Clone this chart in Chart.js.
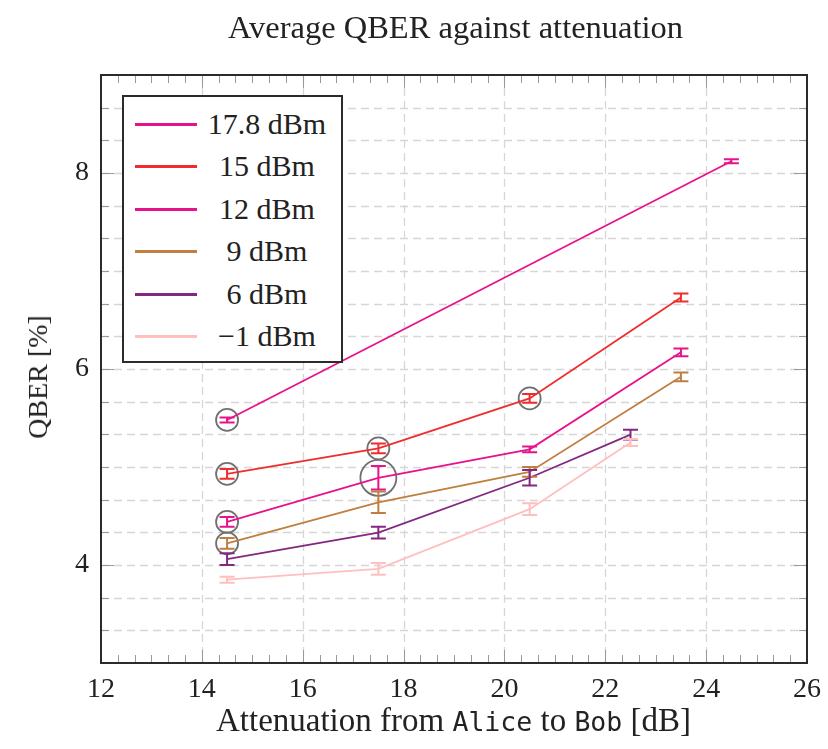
<!DOCTYPE html>
<html>
<head>
<meta charset="utf-8">
<script src="https://cdn.jsdelivr.net/npm/chart.js@4/dist/chart.umd.min.js"></script>
<style>
  body { margin: 0; background: #fff; }
  #wrap { position: relative; width: 828px; height: 749px; }
  #myChart { position: absolute; left: 0; top: 0; }
  .txt { position: absolute; font-family: "Liberation Serif", serif; color: #222; white-space: nowrap; }
  #title { left: 0; width: 911px; top: 9px; text-align: center; font-size: 32.5px; }
  #xTitle { left: 0; width: 907px; top: 702px; text-align: center; font-size: 33px; }
  #yTitle { left: 38px; top: 377px; font-size: 28px; transform: translate(-50%, -50%) rotate(-90deg); }
  .mono { font-family: "DejaVu Sans Mono", monospace; font-size: 26.5px; }
  #legend { position: absolute; left: 122px; top: 95px; width: 217px; height: 264px; border: 2px solid #2b2b2b; background: #fff; }
  .lgRow { position: absolute; left: 0; width: 217px; height: 30px; }
  .lgLine { position: absolute; left: 11px; top: 14px; width: 62px; height: 3px; }
  .lgText { position: absolute; left: 80px; width: 126px; top: 0; text-align: center; font-family: "Liberation Serif", serif; font-size: 30px; line-height: 30px; color: #222; }
</style>
</head>
<body>
<div id="wrap">
  <canvas id="myChart" width="828" height="749"></canvas>
  <div class="txt" id="title">Average QBER against attenuation</div>
  <div class="txt" id="yTitle">QBER [%]</div>
  <div class="txt" id="xTitle">Attenuation from <span class="mono">Alice</span> to <span class="mono">Bob</span> [dB]</div>
  <div id="legend"></div>
</div>
<script>
// datos: atenuacion [dB] contra QBER [%]
var seriesNames = ["17.8 dBm", "15 dBm", "12 dBm", "9 dBm", "6 dBm", "\u22121 dBm"];

var att178 = [14.5, 24.5];
var qber178 = [5.48, 8.12];
var err178 = [0.025, 0.02];

var att15 = [14.5, 17.5, 20.5, 23.5];
var qber15 = [4.93, 5.19, 5.70, 6.73];
var err15 = [0.05, 0.05, 0.045, 0.04];

var att12 = [14.5, 17.5, 20.5, 23.5];
var qber12 = [4.44, 4.89, 5.18, 6.17];
var err12 = [0.05, 0.12, 0.03, 0.04];

var att9 = [14.5, 17.5, 20.5, 23.5];
var qber9 = [4.22, 4.64, 4.95, 5.92];
var err9 = [0.055, 0.11, 0.05, 0.045];

var att6 = [14.5, 17.5, 20.5, 22.5];
var qber6 = [4.06, 4.33, 4.89, 5.33];
var err6 = [0.06, 0.06, 0.08, 0.05];

var attM1 = [14.5, 17.5, 20.5, 22.5];
var qberM1 = [3.85, 3.96, 4.57, 5.25];
var errM1 = [0.03, 0.06, 0.06, 0.035];

// puntos marcados con circulos
var circleAtt = [14.5, 14.5, 14.5, 14.5, 17.5, 17.5, 20.5];
var circleQber = [5.48, 4.93, 4.44, 4.22, 5.19, 4.89, 5.70];

// ticks de los ejes
var xTickValues = [12, 14, 16, 18, 20, 22, 24, 26];
var yTickValues = [4, 6, 8];

// estilos
var seriesColors = ["#e8128c", "#f02c2c", "#e8128c", "#c07f40", "#822882", "#ffbfbf"];
var circleRadius = [11, 11, 11, 11, 11, 18, 11];
var minorStep = 1 / 3;

var attList = [att178, att15, att12, att9, att6, attM1];
var qberList = [qber178, qber15, qber12, qber9, qber6, qberM1];
var errList = [err178, err15, err12, err9, err6, errM1];

function toPoints(xs, ys) {
    var pts = [];
    for (let i = 0; i < xs.length; i++) {
        pts.push({x: xs[i], y: ys[i]});
    }
    return pts;
}

var dataSets = [];
for (let i = 0; i < seriesNames.length; i++) {
    dataSets.push({
        label: seriesNames[i],
        data: toPoints(attList[i], qberList[i]),
        errors: errList[i],
        borderColor: seriesColors[i],
        backgroundColor: seriesColors[i],
        borderWidth: 1.8,
        pointRadius: 0,
        showLine: true,
        tension: 0
    });
}
dataSets.push({
    label: "circles",
    data: toPoints(circleAtt, circleQber),
    borderColor: "#707070",
    backgroundColor: "rgba(0,0,0,0)",
    pointRadius: circleRadius,
    pointBorderWidth: 1.8,
    showLine: false
});

// leyenda en html
var htmlLegend = "";
for (let i = 0; i < seriesNames.length; i++) {
    htmlLegend += "<div class='lgRow' style='top:" + (12 + i * 42.4) + "px'><div class='lgLine' style='background:" + seriesColors[i] + "'></div><div class='lgText'>" + seriesNames[i] + "</div></div>";
}
document.getElementById("legend").innerHTML = htmlLegend;

// rejilla, ticks hacia adentro y marco del grafico
var frame = {
    id: "frame",
    beforeDatasetsDraw(chart) {
        const c = chart.ctx, a = chart.chartArea;
        const xs = chart.scales.x, ys = chart.scales.y;
        c.save();
        c.strokeStyle = "#d6d6d6";
        c.lineWidth = 1.3;
        c.setLineDash([8, 5]);
        for (let v = ys.min + minorStep; v < ys.max - 0.01; v += minorStep) {
            const py = Math.round(ys.getPixelForValue(v)) + 0.5;
            c.beginPath(); c.moveTo(a.left, py); c.lineTo(a.right, py); c.stroke();
        }
        for (const v of xTickValues) {
            if (v <= xs.min || v >= xs.max) continue;
            const px = Math.round(xs.getPixelForValue(v)) + 0.5;
            c.beginPath(); c.moveTo(px, a.top); c.lineTo(px, a.bottom); c.stroke();
        }
        c.setLineDash([]);
        c.strokeStyle = "#9a9a9a";
        c.lineWidth = 1;
        for (let k = 1; xs.min + k * minorStep < xs.max - 0.01; k++) {
            const v = xs.min + k * minorStep;
            const major = (k % 6 == 0);
            const len = major ? 13 : 8;
            const px = Math.round(xs.getPixelForValue(v)) + 0.5;
            c.beginPath(); c.moveTo(px, a.bottom); c.lineTo(px, a.bottom - len); c.stroke();
            c.beginPath(); c.moveTo(px, a.top); c.lineTo(px, a.top + len); c.stroke();
        }
        for (let k = 1; ys.min + k * minorStep < ys.max - 0.01; k++) {
            const v = ys.min + k * minorStep;
            const major = ((k - 3) % 6 == 0);
            const len = major ? 13 : 8;
            const py = Math.round(ys.getPixelForValue(v)) + 0.5;
            c.beginPath(); c.moveTo(a.left, py); c.lineTo(a.left + len, py); c.stroke();
            c.beginPath(); c.moveTo(a.right, py); c.lineTo(a.right - len, py); c.stroke();
        }
        c.restore();
    },
    afterDatasetsDraw(chart) {
        const c = chart.ctx, a = chart.chartArea;
        const ys = chart.scales.y;
        c.save();
        chart.data.datasets.forEach((ds, di) => {
            if (!ds.errors) return;
            const meta = chart.getDatasetMeta(di);
            c.strokeStyle = ds.borderColor;
            c.lineWidth = 2;
            meta.data.forEach((pt, i) => {
                const v = ds.data[i].y, e = ds.errors[i];
                const top = ys.getPixelForValue(v + e), bot = ys.getPixelForValue(v - e);
                c.beginPath();
                c.moveTo(pt.x, top); c.lineTo(pt.x, bot);
                c.moveTo(pt.x - 7.5, top); c.lineTo(pt.x + 7.5, top);
                c.moveTo(pt.x - 7.5, bot); c.lineTo(pt.x + 7.5, bot);
                c.stroke();
            });
        });
        c.strokeStyle = "#2b2b2b";
        c.lineWidth = 2;
        c.strokeRect(a.left, a.top, a.right - a.left, a.bottom - a.top);
        c.restore();
    }
};

var ctx = document.getElementById("myChart");
var myChart = new Chart(ctx, {
    type: "scatter",
    data: { datasets: dataSets },
    options: {
        responsive: false,
        animation: false,
        layout: { padding: { left: 0, right: 21, top: 75, bottom: 0 } },
        plugins: { legend: { display: false }, tooltip: { enabled: false } },
        scales: {
            x: {
                type: "linear", min: 12, max: 26,
                afterBuildTicks: (s) => { s.ticks = xTickValues.map(v => ({value: v})); },
                afterFit: (s) => { s.height = 86; s.paddingLeft = 0; s.paddingRight = 0; },
                grid: { display: false, drawTicks: false },
                border: { display: false },
                ticks: { padding: 10, color: "#222", font: { family: "Liberation Serif", size: 28 }, maxRotation: 0 }
            },
            y: {
                type: "linear", min: 3, max: 9,
                afterBuildTicks: (s) => { s.ticks = yTickValues.map(v => ({value: v})); },
                afterFit: (s) => { s.width = 101; s.paddingTop = 0; s.paddingBottom = 0; },
                grid: { display: false, drawTicks: false },
                border: { display: false },
                ticks: { padding: 12, color: "#222", font: { family: "Liberation Serif", size: 28 } }
            }
        }
    },
    plugins: [frame]
});
</script>
</body>
</html>
